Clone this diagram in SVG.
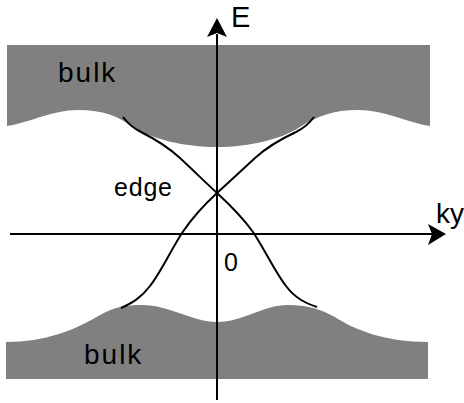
<svg xmlns="http://www.w3.org/2000/svg" width="464" height="403" viewBox="0 0 464 403">
<style>
.band{fill:#808080;stroke:none}
.axis{stroke:#000;stroke-width:2;fill:none}
.head{fill:#000;stroke:none}
.edge{stroke:#000;stroke-width:2;fill:none;stroke-linejoin:round}
.t{font-family:"Liberation Sans",Arial,sans-serif;fill:#000}
</style>
<rect width="464" height="403" fill="#fff"/>
<g id="bulk-top">
<path class="band" d="M7,45 H430 V126 C405,122 385,110 358,110 C333,110 318,116 300,127 C282,139 250,147 217,147 C184,147 152,139 135,128 C118,116 103,110 78,110 C52,110 32,122 7,126 Z"/>
<text class="t" x="58" y="82" font-size="28" letter-spacing="2">bulk</text>
</g>
<g id="bulk-bottom">
<path class="band" d="M6,342 C45,342 75,330 100,315 C115,307 125,305 142,305 C170,305 192,322 217,322 C244,322 262,305 288,305 C308,305 320,309 335,317 C355,330 385,342 428,342 V379 H6 Z"/>
<text class="t" x="84" y="364" font-size="28" letter-spacing="2">bulk</text>
</g>
<g id="edge-label">
<text class="t" x="114" y="196" font-size="25" letter-spacing="0.8">edge</text>
</g>
<g id="connectors">
<path class="axis" d="M217,34 V400"/>
<polygon class="head" points="217,18 227,37 217,33 207,37"/>
<path class="axis" d="M10,234 H432"/>
<polygon class="head" points="446,234 428,245 432,234 428,224"/>
<path class="edge" d="M123,117 C128,124 133,128 141,132 C155,139 168,147 180,158 C195,172 205,182 217,193 C229,204 243,218 253,232 C265,250 275,272 286,286 C295,298 305,303 317,307"/>
<path class="edge" d="M314,117 C309,124 304,128 296,132 C281,139 267,147 255,158 C240,172 229,182 217,193 C205,204 192,218 182,233 C171,250 161,272 150,286 C141,298 132,303 121,308"/>
</g>
<g id="axis-labels">
<text class="t" x="231" y="27" font-size="29">E</text>
<text class="t" x="436" y="223" font-size="28">ky</text>
<text class="t" x="224" y="271" font-size="25">0</text>
</g>
</svg>
